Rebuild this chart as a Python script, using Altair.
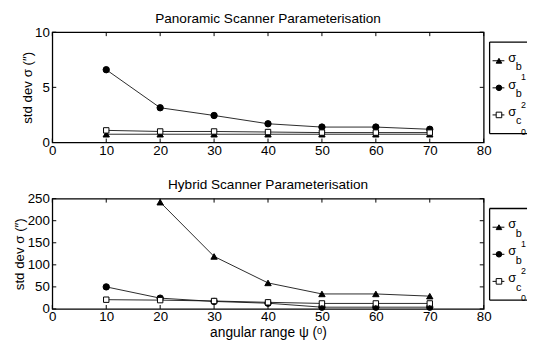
import altair as alt
import pandas as pd

# ---- data ----
angles = [10, 20, 30, 40, 50, 60, 70]

pan_b1 = [0.75, 0.75, 0.75, 0.75, 0.75, 0.75, 0.75]
pan_b2 = [6.6, 3.15, 2.45, 1.7, 1.4, 1.4, 1.2]
pan_c0 = [1.1, 1.0, 1.0, 0.95, 0.9, 0.9, 0.9]

hyb_b1 = [None, 242, 119, 59, 34, 34, 29]
hyb_b2 = [50, 24.5, 17, 13, 4, 4, 4]
hyb_c0 = [21, 20, 18, 15, 12.5, 12.5, 12.5]

x_ticks = [0, 10, 20, 30, 40, 50, 60, 70, 80]
pan_y_ticks = [0, 5, 10]
hyb_y_ticks = [0, 50, 100, 150, 200, 250]

series_keys = ["b1", "b2", "c0"]
legend_letters = ["b", "b", "c"]
legend_digits = ["1", "2", "0"]
legend_shapes = ["triangle-up", "circle", "square"]
legend_fills = ["black", "black", "white"]

titles = ["Panoramic Scanner Parameterisation", "Hybrid Scanner Parameterisation"]
y_title = "std dev σ (″)"
x_title = "angular range ψ (ᵒ)"

FONT = "Liberation Sans"
W, H = 438, 112


def panel(title, series_vals, ymax, yticks, title_pad, show_xtitle):
    rows = []
    for key, vals in zip(series_keys, series_vals):
        for a, v in zip(angles, vals):
            if v is not None:
                rows.append({"angle": a, "value": v, "series": key})
    df = pd.DataFrame(rows)

    xscale = alt.Scale(domain=[0, 80], nice=False, zero=False)
    yscale = alt.Scale(domain=[0, ymax], nice=False)

    x_axis = alt.Axis(values=x_ticks, title=x_title if show_xtitle else None,
                      domain=False, ticks=False, grid=False, labelFont=FONT,
                      labelFontSize=13.5, labelColor="black", labelPadding=1,
                      titleFont=FONT, titleFontSize=14, titleFontWeight="normal",
                      titleColor="black", titlePadding=2, labelFlush=False)
    y_axis = alt.Axis(values=yticks, title=y_title, domain=False, ticks=False,
                      grid=False, labelFont=FONT, labelFontSize=13.5,
                      labelColor="black", labelPadding=3, titleFont=FONT,
                      titleFontSize=13.5, titleFontWeight="normal",
                      titleColor="black", titlePadding=title_pad, labelFlush=False)

    X = alt.X("angle:Q", scale=xscale, axis=x_axis)
    Y = alt.Y("value:Q", scale=yscale, axis=y_axis)

    base = alt.Chart(df)
    lines = base.mark_line(color="#111111", strokeWidth=0.9).encode(
        x=X, y=Y, detail="series:N")
    layers = [lines]
    for key, shp, fc in zip(series_keys, legend_shapes, legend_fills):
        size = 30 if shp == "square" else 42
        pts = base.transform_filter(alt.datum.series == key).mark_point(
            shape=shp, filled=True, fill=fc, stroke="black", strokeWidth=1,
            size=size, opacity=1,
        ).encode(x=X, y=Y)
        layers.append(pts)

    # inward ticks on all four sides
    xt = alt.Chart(pd.DataFrame({"angle": x_ticks}))
    yt = alt.Chart(pd.DataFrame({"value": yticks}))
    tk = 4
    layers.append(xt.mark_rule(color="black", strokeWidth=1).encode(
        x=X, y=alt.value(0), y2=alt.value(tk)))
    layers.append(xt.mark_rule(color="black", strokeWidth=1).encode(
        x=X, y=alt.value(H - tk), y2=alt.value(H)))
    layers.append(yt.mark_rule(color="black", strokeWidth=1).encode(
        y=Y, x=alt.value(0), x2=alt.value(tk)))
    layers.append(yt.mark_rule(color="black", strokeWidth=1).encode(
        y=Y, x=alt.value(W - tk), x2=alt.value(W)))

    # legend box to the right of the plot (its right side runs off the page)
    one = alt.Chart(pd.DataFrame({"i": [0]}))
    bx0, bx1, by0, by1 = W + 6, W + 44, 10, 103
    layers.append(one.mark_rect(fill="white").encode(
        x=alt.value(bx0), x2=alt.value(bx1), y=alt.value(by0), y2=alt.value(by1)))
    for seg in [(bx0, bx1, by0, by0), (bx0, bx1, by1, by1), (bx0, bx0, by0, by1)]:
        layers.append(one.mark_rule(color="black", strokeWidth=1.3).encode(
            x=alt.value(seg[0]), x2=alt.value(seg[1]),
            y=alt.value(seg[2]), y2=alt.value(seg[3])))

    leg = alt.Chart(pd.DataFrame({
        "i": [0, 1, 2], "letter": legend_letters, "digit": legend_digits,
        "shape": legend_shapes, "fillc": legend_fills,
    })).transform_calculate(py="29 + datum.i * 27.5")
    layers.append(leg.mark_rule(color="black", strokeWidth=1).encode(
        x=alt.value(W + 9), x2=alt.value(W + 21), y=alt.Y("py:Q", scale=None)))
    layers.append(leg.mark_point(filled=True, stroke="black", strokeWidth=1,
                                 size=32, opacity=1).encode(
        x=alt.value(W + 15.5), y=alt.Y("py:Q", scale=None),
        shape=alt.Shape("shape:N", scale=None, legend=None),
        fill=alt.Fill("fillc:N", scale=None, legend=None)))
    layers.append(leg.transform_calculate(ps="datum.py - 3").mark_text(
        text="σ", font=FONT, fontSize=13, align="center",
        baseline="middle", color="black").encode(
        x=alt.value(W + 29), y=alt.Y("ps:Q", scale=None)))
    layers.append(leg.transform_calculate(py2="datum.py + 6.5").mark_text(
        font=FONT, fontSize=11, align="center", baseline="middle", color="black").encode(
        x=alt.value(W + 35.5), y=alt.Y("py2:Q", scale=None), text="letter:N"))
    layers.append(leg.transform_calculate(py3="datum.py + 17").mark_text(
        font=FONT, fontSize=9, align="center", baseline="middle", color="black").encode(
        x=alt.value(W + 40.5), y=alt.Y("py3:Q", scale=None), text="digit:N"))

    return alt.layer(*layers).properties(
        width=W, height=H,
        title=alt.TitleParams(title, font=FONT, fontSize=13.8, fontWeight="normal",
                              color="black", anchor="middle", offset=0),
    )


top = panel(titles[0], [pan_b1, pan_b2, pan_c0], 10, pan_y_ticks, 0, False)
bottom = panel(titles[1], [hyb_b1, hyb_b2, hyb_c0], 250, hyb_y_ticks, 1, True)

chart = alt.vconcat(top, bottom, spacing=19).configure_view(
    stroke="black", strokeWidth=1.3
).properties(background="white", padding={"left": 3, "top": 0, "right": 0, "bottom": 0})

chart.save("out.html", embed_options={"renderer": "svg", "actions": False})
